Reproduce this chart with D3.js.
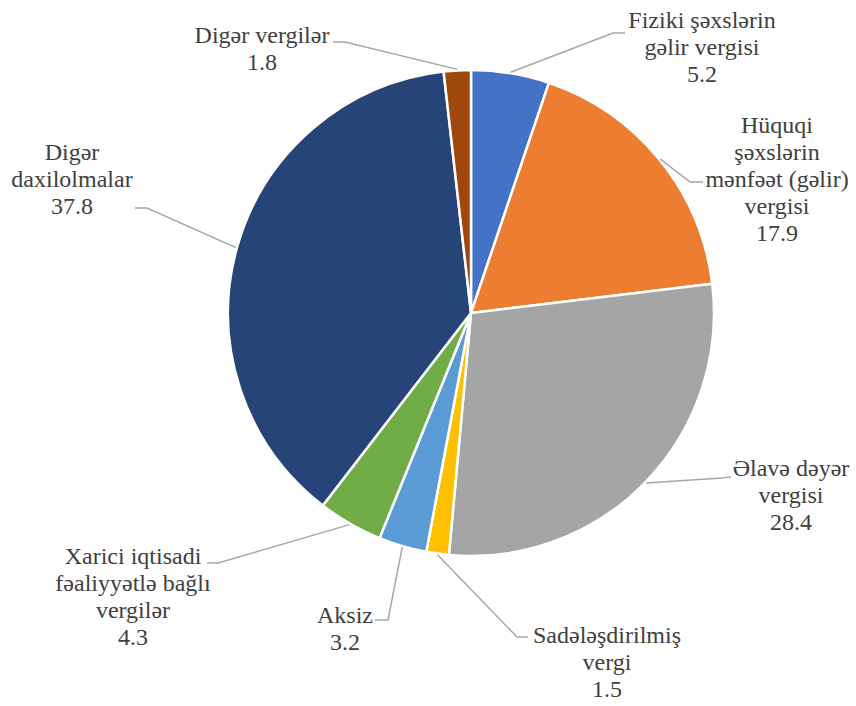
<!DOCTYPE html>
<html>
<head>
<meta charset="utf-8">
<script src="https://cdn.jsdelivr.net/npm/d3@7"></script>
<style>
  body { margin: 0; background: #fff; }
  svg text { font-family: "Liberation Serif", "Times New Roman", serif !important; }
</style>
</head>
<body>
<div class="taxPie"></div>
<script>
// categories (label lines) and shares, clockwise from 12 o'clock
const categories = [
  ["Fiziki şəxslərin", "gəlir vergisi"],
  ["Hüquqi", "şəxslərin", "mənfəət (gəlir)", "vergisi"],
  ["Əlavə dəyər", "vergisi"],
  ["Sadələşdirilmiş", "vergi"],
  ["Aksiz"],
  ["Xarici iqtisadi", "fəaliyyətlə bağlı", "vergilər"],
  ["Digər", "daxilolmalar"],
  ["Digər vergilər"]
];
const values = [5.2, 17.9, 28.4, 1.5, 3.2, 4.3, 37.8, 1.8];
const colors = ["#4472C4", "#ED7D31", "#A5A5A5", "#FFC000", "#5B9BD5", "#70AD47", "#264478", "#9E480E"];

// hand placed label layout (first line centre, leader elbow, leader end)
const labelX = [702, 777, 791, 607, 345, 133, 72, 262];
const labelY = [20, 125, 468, 635, 615, 556, 152, 35];
const elbows = [[613, 33], [690, 182], [722, 478], [517, 637], [388, 620], [218, 563], [147, 208], [345, 42]];
const ends = [[625, 33], [703, 182], [731, 477], [528, 637], [375, 620], [207, 563], [135, 208], [333, 42]];

const width = 856, height = 706;
const cx = 471, cy = 313, radius = 243;
const lineH = 27;

const svg = d3.select(".taxPie").append("svg")
  .attr("width", width)
  .attr("height", height);

const pie = d3.pie().sort(null).value(d => d)(values);
const arc = d3.arc().innerRadius(0).outerRadius(radius);

const g = svg.append("g").attr("transform", "translate(" + cx + "," + cy + ")");

g.selectAll("path.slice")
  .data(pie)
  .enter().append("path")
  .attr("class", "slice")
  .attr("d", arc)
  .attr("fill", (d, i) => colors[i])
  .attr("stroke", "#fff")
  .attr("stroke-width", 2.5)
  .attr("stroke-linejoin", "round");

// leader lines start at the outer edge of each slice's middle angle
svg.selectAll("polyline.leader")
  .data(pie)
  .enter().append("polyline")
  .attr("class", "leader")
  .attr("points", (d, i) => {
    const a = (d.startAngle + d.endAngle) / 2;
    const sx = cx + (radius + 1) * Math.sin(a);
    const sy = cy - (radius + 1) * Math.cos(a);
    return [[sx, sy], elbows[i], ends[i]].map(p => p.join(",")).join(" ");
  })
  .attr("fill", "none")
  .attr("stroke", "#A6A6A6")
  .attr("stroke-width", 1.5);

// one text element per label line
const labelLines = [];
categories.forEach((c, i) => {
  c.concat([String(values[i])]).forEach((s, k) => {
    labelLines.push({ s: s, x: labelX[i], y: labelY[i] + k * lineH });
  });
});

svg.selectAll("text.lbl")
  .data(labelLines)
  .enter().append("text")
  .attr("class", "lbl")
  .attr("x", d => d.x)
  .attr("y", d => d.y)
  .attr("dy", "0.35em")
  .attr("text-anchor", "middle")
  .style("font-family", "'Liberation Serif', serif", "important")
  .attr("font-size", 24)
  .attr("fill", "#404040")
  .text(d => d.s);
</script>
</body>
</html>
